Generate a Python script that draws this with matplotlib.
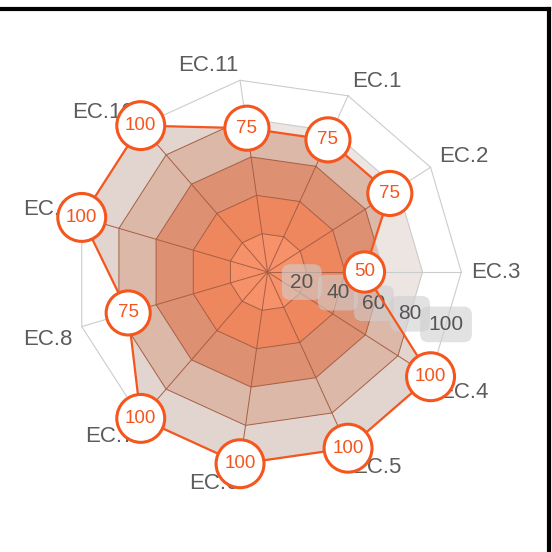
import numpy as np
import matplotlib
matplotlib.use("Agg")
import matplotlib.pyplot as plt
from matplotlib.patches import Polygon
from matplotlib.lines import Line2D

# data
categories = ['EC.1', 'EC.2', 'EC.3', 'EC.4', 'EC.5', 'EC.6',
              'EC.7', 'EC.8', 'EC.9', 'EC.10', 'EC.11']
values = [75, 75, 50, 100, 100, 100, 100, 75, 100, 100, 75]
levels = [20, 40, 60, 80, 100]
level_labels = ['20', '40', '60', '80', '100']

# band colours (0-20 ... 80-100), inside and outside the data area
band_in = ['#f7916a', '#ee865e', '#de9072', '#dcb8a8', '#e2d4ce']
band_out = ['#f7916a', '#ee865e', '#dfc0b3', '#ece5e2', '#ffffff']

orange = '#f4561e'
plt.rcParams['font.family'] = ['Liberation Sans', 'DejaVu Sans']

n = len(categories)
step = 2 * np.pi / n
# EC.3 sits on the right, order runs clockwise
angles = 2 * step - np.arange(n) * step


def ring(r):
    r = np.broadcast_to(np.asarray(r, dtype=float), (n,))
    return np.column_stack([r * np.cos(angles), r * np.sin(angles)])


fig = plt.figure(figsize=(5.52, 5.52), dpi=100)
ax = fig.add_axes([0, 0, 1, 1])
px = 100 / 193.7
cx, cy = 267.6, 272
ax.set_xlim(-cx * px, (552 - cx) * px)
ax.set_ylim(-(552 - cy) * px, cy * px)
ax.set_aspect('equal')
ax.axis('off')

data_xy = ring(values)
data_poly = Polygon(data_xy, closed=True, facecolor='none',
                    edgecolor=orange, lw=1.6, zorder=5)
ax.add_patch(data_poly)

# bands outside, then inside clipped by the data area
for colors, clip in [(band_out, False), (band_in, True)]:
    for lev, col in zip(levels[::-1], colors[::-1]):
        p = Polygon(ring(lev), closed=True, facecolor=col,
                    edgecolor='none', zorder=1 if not clip else 2)
        ax.add_patch(p)
        if clip:
            p.set_clip_path(data_poly)

# grid: grey outside, brown inside
for col, lw, clip, z in [('#cccccc', 0.8, False, 1.5), ('#a65f45', 0.7, True, 3)]:
    for lev in levels:
        xy = ring(lev)
        xy = np.vstack([xy, xy[:1]])
        ln, = ax.plot(xy[:, 0], xy[:, 1], color=col, lw=lw, zorder=z)
        if clip:
            ln.set_clip_path(data_poly)
    outer = ring(levels[-1])
    for x, y in outer:
        ln, = ax.plot([0, x], [0, y], color=col, lw=lw, zorder=z)
        if clip:
            ln.set_clip_path(data_poly)

# category labels
r_lab = 105
for name, a in zip(categories, angles):
    c, s = np.cos(a), np.sin(a)
    ha = 'left' if c > 0.05 else ('right' if c < -0.05 else 'center')
    if abs(s) < 0.05:
        va = 'center'
    elif s > 0:
        va = 'baseline'
    else:
        va = 'top'
    ax.text(r_lab * c, r_lab * s, name, ha=ha, va=va, fontsize=16,
            color='#5c5c5c', zorder=4)

# radial axis labels
a_lab = -step / 2
for lev, txt in zip(levels, level_labels):
    r = lev * 0.97 - 1
    ax.text(r * np.cos(a_lab), r * np.sin(a_lab), txt, ha='center',
            va='center', fontsize=15, color='#555555', zorder=4,
            bbox=dict(boxstyle='round,pad=0.4', facecolor='#cfcfcf',
                      edgecolor='none', alpha=0.6))

# markers with value labels
sizes = [23.5 + 0.11 * v for v in values]
ax.scatter(data_xy[:, 0], data_xy[:, 1], s=np.square(sizes), facecolor='white',
           edgecolor=orange, linewidth=2.2, zorder=6)
for (x, y), v in zip(data_xy, values):
    ax.text(x, y, str(v), ha='center', va='center', fontsize=13.5,
            color=orange, zorder=7)

# frame on the top and right
fig.add_artist(Line2D([0, 549 / 552], [1 - 9 / 552, 1 - 9 / 552],
                      color='black', lw=3, transform=fig.transFigure))
fig.add_artist(Line2D([549 / 552, 549 / 552], [0, 1 - 9 / 552],
                      color='black', lw=3, transform=fig.transFigure))

fig.savefig('out.png', dpi=100)
